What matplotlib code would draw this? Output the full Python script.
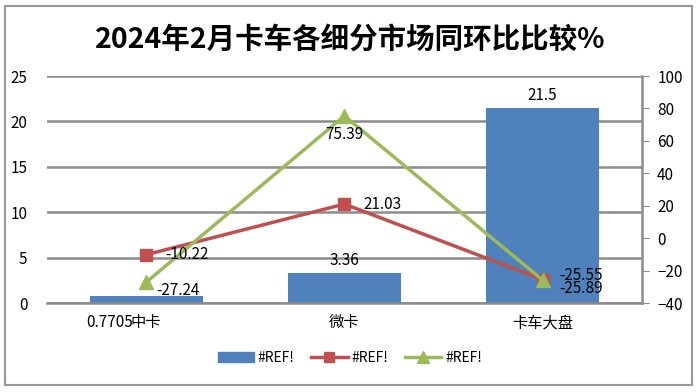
import matplotlib.pyplot as plt
from matplotlib.patches import Rectangle

plt.rcParams['font.family'] = ['Noto Sans CJK SC', 'DejaVu Sans']

title = "2024年2月卡车各细分市场同环比比较%"
categories = ["中卡", "微卡", "卡车大盘"]
sales = [0.7705, 3.36, 21.5]          # bars, left axis
mom = [-10.22, 21.03, -25.55]         # red line, right axis
yoy = [-27.24, 75.39, -25.89]         # green line, right axis
series_names = ["#REF!", "#REF!", "#REF!"]

blue = "#4F81BD"
red = "#C0504D"
green = "#9BBB59"
grid_gray = "#8C8C8C"

fig = plt.figure(figsize=(7, 3.92), dpi=100)
ax = fig.add_axes([0.067, 0.227, 0.85, 0.579])
ax2 = ax.twinx()

x = list(range(len(categories)))
ax.bar(x, sales, width=0.57, color=blue, zorder=2)
ax.set_xlim(-0.5, 2.5)
ax.set_ylim(0, 25)
ax.set_yticks([0, 5, 10, 15, 20, 25])
ax.yaxis.grid(True, color=grid_gray, linewidth=1.8, zorder=0)
ax.set_axisbelow(True)
ax.set_xticks(x, categories)
ax.tick_params(axis="x", length=0, labelsize=11, pad=8)
ax.tick_params(axis="y", length=0, labelsize=11, pad=14)
for s in ["top", "left", "right"]:
    ax.spines[s].set_visible(False)
ax.spines["bottom"].set_color(grid_gray)
ax.spines["bottom"].set_linewidth(1.8)

ax2.plot(x, mom, color=red, linewidth=2.5, marker="s", markersize=8, zorder=3)
ax2.plot(x, yoy, color=green, linewidth=2.5, marker="^", markersize=10, zorder=3)
ax2.set_ylim(-40, 100)
ax2.set_yticks(range(-40, 101, 20))
ax2.tick_params(axis="y", length=5, color=grid_gray, labelsize=11, pad=6)
for s in ["top", "left", "bottom"]:
    ax2.spines[s].set_visible(False)
ax2.spines["right"].set_color(grid_gray)
ax2.spines["right"].set_linewidth(1.8)

# bar value labels
ax.annotate(f"{sales[0]:g}", (x[0], 0), xytext=(-43, -14), textcoords="offset points",
            ha="left", va="center", fontsize=11)
for i in (1, 2):
    ax.annotate(f"{sales[i]:g}", (x[i], sales[i]), xytext=(0, 9), textcoords="offset points",
                ha="center", va="center", fontsize=11)

# line value labels
mom_off = [(14, 0), (14, 0), (12, 3)]
yoy_off = [(7, -6), (0, -13), (12, -6)]
for i in x:
    ax2.annotate(f"{mom[i]:.2f}", (x[i], mom[i]), xytext=mom_off[i], textcoords="offset points",
                 ha="left", va="center", fontsize=11)
    ha = "center" if i == 1 else "left"
    ax2.annotate(f"{yoy[i]:.2f}", (x[i], yoy[i]), xytext=yoy_off[i], textcoords="offset points",
                 ha=ha, va="center", fontsize=11)

fig.text(0.5, 0.9, title, ha="center", va="center", fontsize=20.5, fontweight="bold")

handles = [
    Rectangle((0, 0), 1, 1, color=blue),
    plt.Line2D([], [], color=red, linewidth=2.5, marker="s", markersize=7),
    plt.Line2D([], [], color=green, linewidth=2.5, marker="^", markersize=8),
]
fig.legend(handles, series_names, loc="center", bbox_to_anchor=(0.5, 0.087), ncol=3,
           frameon=False, fontsize=10, handlelength=2.6, columnspacing=1.2, handletextpad=0.3)

fig.add_artist(Rectangle((0.007, 0.018), 0.982, 0.966, transform=fig.transFigure,
                         fill=False, edgecolor="#999999", linewidth=1.5))

fig.savefig("out.png", dpi=100)
